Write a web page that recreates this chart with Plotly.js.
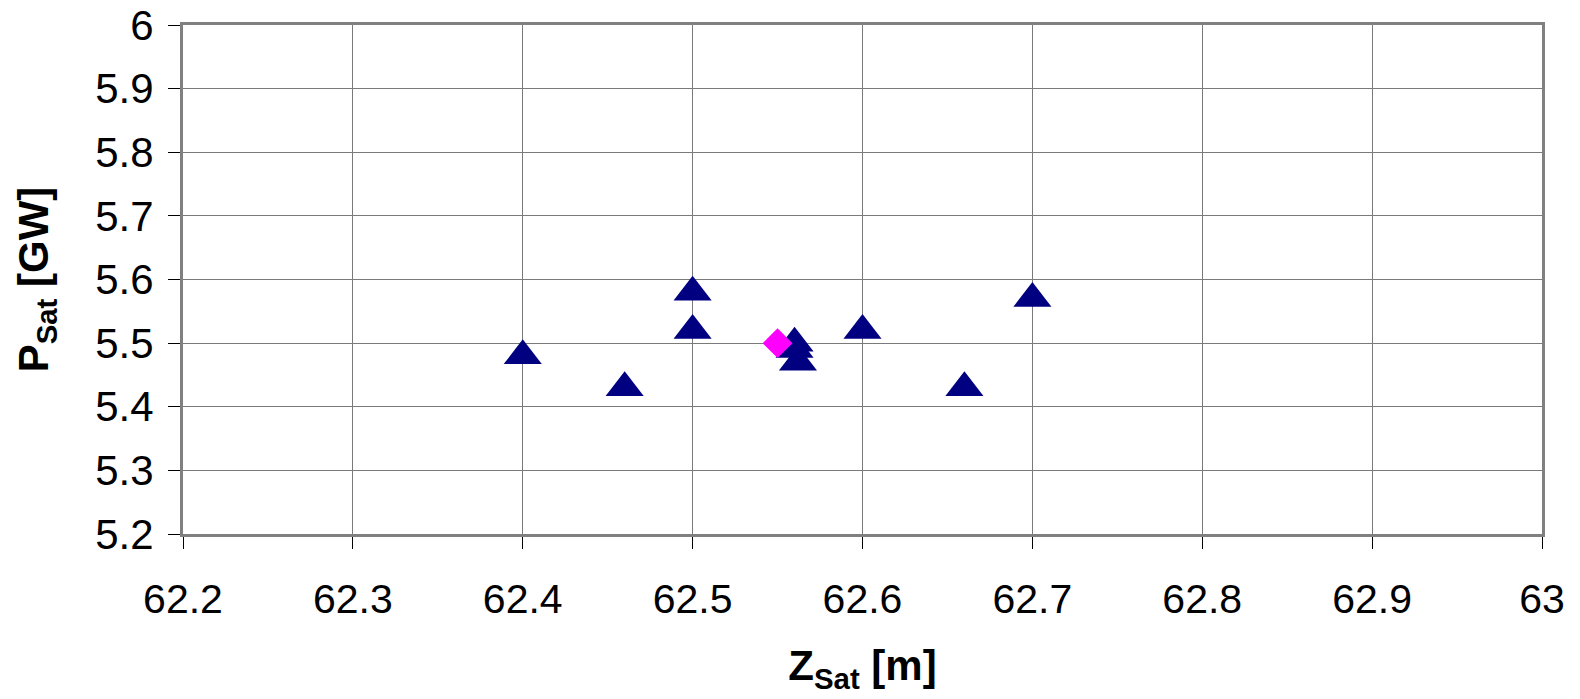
<!DOCTYPE html>
<html>
<head>
<meta charset="utf-8">
<script src="https://cdn.plot.ly/plotly-3.0.1.min.js"></script>
<style>html,body{margin:0;padding:0;background:#fff;}#chart{width:1580px;height:699px;}</style>
</head>
<body>
<div id="chart"></div>
<script>
// Measured points (triangles)
var zSat = [62.40, 62.46, 62.50, 62.50, 62.56, 62.56, 62.562, 62.60, 62.66, 62.70];
var pSat = [5.48, 5.43, 5.58, 5.52, 5.50, 5.49, 5.47, 5.52, 5.43, 5.57];
// Reference point (diamond)
var zRef = [62.55];
var pRef = [5.50];

var xTicks = [62.2, 62.3, 62.4, 62.5, 62.6, 62.7, 62.8, 62.9, 63];
var xTickText = ['62.2', '62.3', '62.4', '62.5', '62.6', '62.7', '62.8', '62.9', '63'];
var yTicks = [5.2, 5.3, 5.4, 5.5, 5.6, 5.7, 5.8, 5.9, 6];
var yTickText = ['5.2', '5.3', '5.4', '5.5', '5.6', '5.7', '5.8', '5.9', '6'];

var traces = [
  {
    x: zSat, y: pSat, type: 'scatter', mode: 'markers', name: 'data',
    marker: {symbol: 'triangle-up', size: 33, color: '#000080', line: {width: 0}},
    hoverinfo: 'x+y'
  },
  {
    x: zRef, y: pRef, type: 'scatter', mode: 'markers', name: 'reference',
    marker: {symbol: 'diamond', size: 23, color: '#FF00FF', line: {width: 0}},
    hoverinfo: 'x+y'
  }
];

var layout = {
  width: 1580, height: 699,
  margin: {l: 183, r: 38, t: 25, b: 165, pad: 0},
  paper_bgcolor: '#ffffff',
  plot_bgcolor: '#ffffff',
  showlegend: false,
  font: {family: 'Liberation Sans, Arial, sans-serif', color: '#000'},
  xaxis: {
    range: [62.2, 63],
    tickmode: 'array', tickvals: xTicks, ticktext: xTickText,
    showgrid: true, gridcolor: '#7a7a7a', gridwidth: 1,
    zeroline: false,
    showline: true, linecolor: '#808080', linewidth: 3, mirror: true,
    ticks: 'outside', ticklen: 12, tickwidth: 1, tickcolor: '#000',
    ticklabelstandoff: 15,
    tickfont: {size: 41, color: '#000'},
    title: {text: '<b>Z<sub>Sat</sub> [m]</b>', font: {size: 42, color: '#000'}, standoff: 30}
  },
  yaxis: {
    range: [5.2, 6],
    tickmode: 'array', tickvals: yTicks, ticktext: yTickText,
    showgrid: true, gridcolor: '#7a7a7a', gridwidth: 1,
    zeroline: false,
    showline: true, linecolor: '#808080', linewidth: 3, mirror: true,
    ticks: 'outside', ticklen: 12, tickwidth: 1, tickcolor: '#000',
    ticklabelstandoff: 6,
    tickfont: {size: 42, color: '#000'},
    title: {text: '<b>P<sub>Sat</sub> [GW]</b>', font: {size: 42, color: '#000'}, standoff: 34}
  }
};

Plotly.newPlot('chart', traces, layout, {displayModeBar: false, staticPlot: true});
</script>
</body>
</html>
